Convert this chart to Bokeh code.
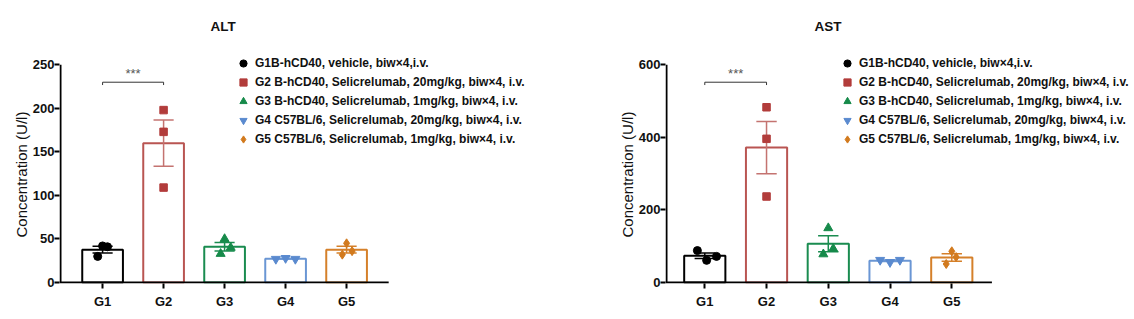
import numpy as np
from bokeh.plotting import figure
from bokeh.layouts import row
from bokeh.models import Range1d, FixedTicker, Legend, LegendItem, Title
from bokeh.core.properties import value
from bokeh.embed import file_html
from bokeh.resources import INLINE

FONT = "Liberation Sans"

groups = ["G1", "G2", "G3", "G4", "G5"]
legend_labels = [
    "G1B-hCD40, vehicle, biw×4,i.v.",
    "G2 B-hCD40, Selicrelumab, 20mg/kg, biw×4, i.v.",
    "G3 B-hCD40, Selicrelumab, 1mg/kg, biw×4, i.v.",
    "G4 C57BL/6, Selicrelumab, 20mg/kg, biw×4, i.v.",
    "G5 C57BL/6, Selicrelumab, 1mg/kg, biw×4, i.v.",
]
y_label = "Concentration (U/l)"

# ALT individual values (U/l)
alt_g1 = [30, 42, 41]
alt_g2 = [198, 173, 109]
alt_g3 = [50, 40, 33]
alt_g4 = [27, 28, 27]
alt_g5 = [45, 36, 32]
alt_ticks = [0, 50, 100, 150, 200, 250]

# AST individual values (U/l)
ast_g1 = [88, 61, 72]
ast_g2 = [483, 396, 237]
ast_g3 = [150, 93, 78]
ast_g4 = [62, 56, 62]
ast_g5 = [86, 70, 51]
ast_ticks = [0, 200, 400, 600]

# horizontal scatter of the points within each group
alt_jitter = [[-0.08, 0.0, 0.08], [0, 0, 0], [0.0, 0.1, -0.065], [-0.16, 0.0, 0.16], [0.0, 0.09, -0.07]]
ast_jitter = [[-0.12, 0.03, 0.19], [0, 0, 0], [0.0, 0.08, -0.08], [-0.16, 0.0, 0.16], [0.0, 0.07, -0.09]]

markers = ["circle", "square", "triangle", "inverted_triangle", "diamond"]
marker_sizes = [8, 7.5, 9, 9, 9]
point_colors = ["#000000", "#B23C3B", "#168A4A", "#5A8ACF", "#D27A1E"]
bar_colors = ["#000000", "#B95552", "#1A8C50", "#6A96D4", "#D5802A"]
err_colors = ["#000000", "#C47370", "#1A8C50", "#6A96D4", "#D5802A"]

# layout (pixels)
FIG_W = 567
FRAME_TOP = 50
FRAME_H = 233
BORDER_BOTTOM = 36
AXIS_TOP_PX = 64.3     # where the top tick sits
ZERO_PX = 282          # where y = 0 sits


def make_panel(title, data, jitter, ticks, frame_left, px_per_cat, pad_l, pad_r, legend_x, title_offset):
    xs = np.arange(1, len(groups) + 1)
    arr = [np.array(d, dtype=float) for d in data]
    means = np.array([a.mean() for a in arr])
    sems = np.array([a.std(ddof=1) / np.sqrt(len(a)) for a in arr])
    ymax = ticks[-1]

    frame_w = FIG_W - frame_left - 5
    x_line = xs[0] - pad_l
    x_start = x_line - 1.0 / px_per_cat
    x_end = x_start + frame_w / px_per_cat
    ky = (ZERO_PX - AXIS_TOP_PX) / ymax
    frame_bottom = FRAME_TOP + FRAME_H
    y_start = -(frame_bottom - ZERO_PX) / ky
    y_end = ymax + (AXIS_TOP_PX - FRAME_TOP) / ky

    p = figure(frame_width=frame_w, frame_height=FRAME_H, output_backend="svg", toolbar_location=None,
               x_range=Range1d(x_start, x_end), y_range=Range1d(y_start, y_end),
               min_border_left=frame_left, min_border_right=5,
               min_border_top=FRAME_TOP, min_border_bottom=BORDER_BOTTOM)
    p.outline_line_color = None
    p.grid.visible = False
    p.background_fill_color = "white"
    p.border_fill_color = "white"

    p.title.text = title
    p.title.align = "left"
    p.title.offset = title_offset
    p.title.vertical_align = "top"
    p.title.text_font = FONT
    p.title.text_font_size = "13.5px"
    p.title.text_font_style = "bold"
    p.title.text_color = "#111111"
    p.title.text_line_height = 1.5
    p.title.standoff = 30

    # bars
    p.vbar(x=xs, top=means, width=0.667, fill_color="white", line_color=bar_colors, line_width=2)
    # error bars (mean ± SEM)
    p.segment(x0=xs, y0=means - sems, x1=xs, y1=means + sems, line_color=err_colors, line_width=1.5)
    cap = 0.165
    p.segment(x0=xs - cap, y0=means + sems, x1=xs + cap, y1=means + sems, line_color=err_colors, line_width=1.5)
    p.segment(x0=xs - cap, y0=means - sems, x1=xs + cap, y1=means - sems, line_color=err_colors, line_width=1.5)

    # axis lines drawn within the frame so that they stop where the reference's do
    p.segment(x0=[x_line - 1.0 / px_per_cat], y0=[0], x1=[xs[-1] + pad_r], y1=[0], line_color="black", line_width=2)
    p.segment(x0=[x_line], y0=[0], x1=[x_line], y1=[ymax], line_color="black", line_width=2)

    # points
    items = []
    for i, a in enumerate(arr):
        px = xs[i] + np.array(jitter[i])
        r = p.scatter(x=px, y=a, marker=markers[i], size=marker_sizes[i],
                      fill_color=point_colors[i], line_color=point_colors[i])
        items.append(LegendItem(label=legend_labels[i], renderers=[r]))

    # significance bracket G1 vs G2
    by = ymax * 0.92
    tick = ymax * 0.013
    p.segment(x0=[xs[0], xs[0], xs[1]], y0=[by, by, by], x1=[xs[1], xs[0], xs[1]], y1=[by, by - tick, by - tick],
              line_color="#333333", line_width=1)
    p.text(x=[(xs[0] + xs[1]) / 2], y=[by + ymax * 0.04], text=["***"], text_align="center",
           text_baseline="middle", text_font=value(FONT), text_font_size="13px", text_color="#555555")

    legend_bottom = frame_bottom - 148
    legend = Legend(items=items, location=(legend_x - frame_left, legend_bottom), orientation="vertical",
                    border_line_alpha=0, background_fill_alpha=0, padding=0, margin=0, spacing=1,
                    glyph_width=20, glyph_height=18, label_height=18, label_standoff=2,
                    label_text_font=FONT, label_text_font_style="bold", label_text_font_size="12px",
                    label_text_color="#111111")
    p.add_layout(legend)

    # axes (lines hidden, ticks and labels kept)
    p.xaxis.ticker = FixedTicker(ticks=list(xs))
    p.xaxis.major_label_overrides = {int(x): g for x, g in zip(xs, groups)}
    p.yaxis.ticker = FixedTicker(ticks=ticks)
    for ax in (p.xaxis[0], p.yaxis[0]):
        ax.axis_line_color = None
        ax.major_tick_line_width = 2
        ax.major_tick_line_color = "black"
        ax.major_tick_in = 0
        ax.minor_tick_line_color = None
        ax.major_label_text_font = FONT
        ax.major_label_text_font_style = "bold"
        ax.major_label_text_font_size = "13px"
        ax.major_label_text_color = "#111111"
    p.xaxis.major_tick_out = 5
    p.xaxis.major_label_standoff = 5
    p.yaxis.major_tick_out = 5
    p.yaxis.major_label_standoff = 0

    # y-axis title, centred on the drawn axis (0..top tick) rather than on the frame
    ylab = Title(text=y_label, align="left", vertical_align="bottom", offset=46, standoff=0,
                 text_font=FONT, text_font_size="15px", text_font_style="normal", text_color="#111111")
    p.add_layout(ylab, "left")
    return p


p1 = make_panel("ALT", [alt_g1, alt_g2, alt_g3, alt_g4, alt_g5], alt_jitter, alt_ticks,
                59, 61.0, 0.69, 0.69, 233, 151)
p2 = make_panel("AST", [ast_g1, ast_g2, ast_g3, ast_g4, ast_g5], ast_jitter, ast_ticks,
                98, 61.75, 0.62, 0.65, 837 - FIG_W, 149)

layout = row(p1, p2)
open("out.html", "w").write(file_html(layout, INLINE))
